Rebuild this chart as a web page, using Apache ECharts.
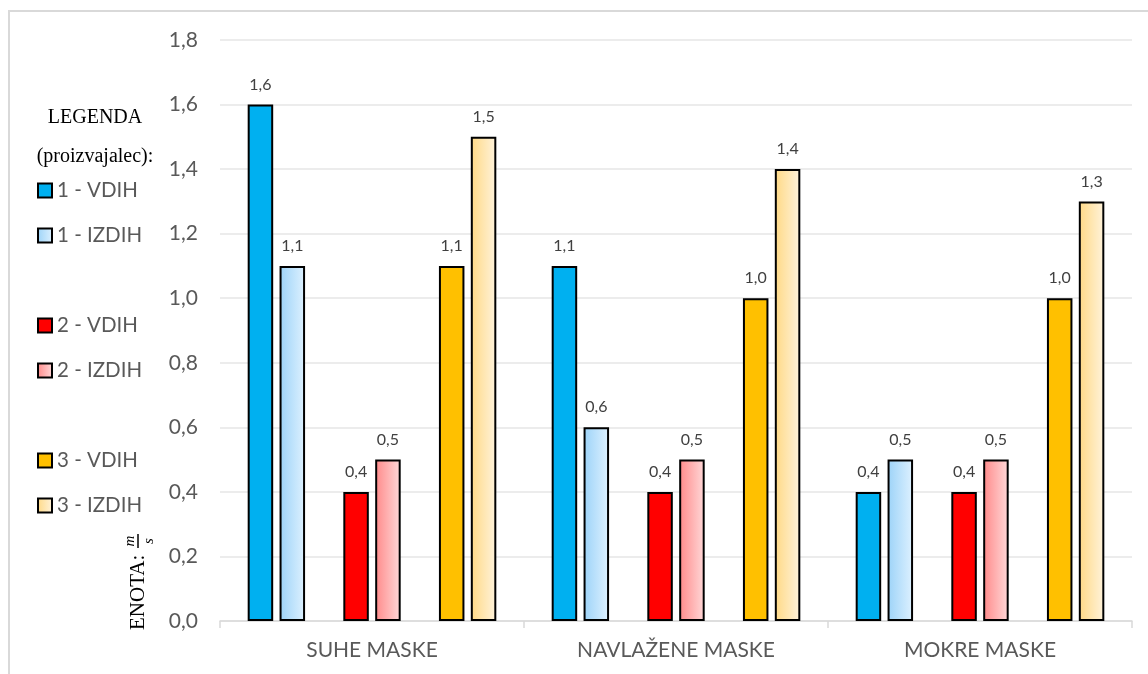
<!DOCTYPE html>
<html>
<head>
<meta charset="utf-8">
<script src="https://cdn.jsdelivr.net/npm/echarts@6/dist/echarts.min.js"></script>
<style>
  html, body { margin: 0; padding: 0; background: #ffffff; }
  #chart { width: 1148px; height: 674px; }
</style>
</head>
<body>
<div id="chart"></div>
<script>
// Categories and measured values (m/s)
const categories = ['SUHE MASKE', 'NAVLAŽENE MASKE', 'MOKRE MASKE'];
const seriesNames = ['1 - VDIH', '1 - IZDIH', '2 - VDIH', '2 - IZDIH', '3 - VDIH', '3 - IZDIH'];
const vdih1 = [1.6, 1.1, 0.4];
const izdih1 = [1.1, 0.6, 0.5];
const vdih2 = [0.4, 0.4, 0.4];
const izdih2 = [0.5, 0.5, 0.5];
const vdih3 = [1.1, 1.0, 1.0];
const izdih3 = [1.5, 1.4, 1.3];
const yAxisRange = { min: 0, max: 1.8, step: 0.2 };

const SANS = 'Lato, "Liberation Sans", sans-serif';
const SERIF = '"Liberation Serif", "Times New Roman", serif';

const fmt = v => Number(v).toFixed(1).replace('.', ',');

function hGrad(from, to) {
  return new echarts.graphic.LinearGradient(0, 0, 1, 0, [
    { offset: 0, color: from },
    { offset: 1, color: to }
  ]);
}

function barSeries(name, data, color) {
  return {
    name: name,
    type: 'bar',
    data: data,
    barWidth: 25.5,
    barGap: '25%',
    itemStyle: { color: color, borderColor: '#000000', borderWidth: 2 },
    label: {
      show: true,
      position: 'top',
      distance: 12,
      color: '#404040',
      fontSize: 16,
      fontFamily: SANS,
      formatter: p => fmt(p.value)
    },
    emphasis: { disabled: true }
  };
}

// an empty slot between manufacturer pairs
function gapSeries(id) {
  return { id: id, type: 'bar', data: [], barWidth: 25.5, barGap: '25%', silent: true };
}

const series = [
  barSeries(seriesNames[0], vdih1, '#00B0F0'),
  barSeries(seriesNames[1], izdih1, hGrad('#9CD3F8', '#DEF1FF')),
  gapSeries('gapA'),
  barSeries(seriesNames[2], vdih2, '#FF0000'),
  barSeries(seriesNames[3], izdih2, hGrad('#FF8A8A', '#FFD9D9')),
  gapSeries('gapB'),
  barSeries(seriesNames[4], vdih3, '#FFC000'),
  barSeries(seriesNames[5], izdih3, hGrad('#FFD985', '#FFF3DC'))
];

// legend rows: two per manufacturer, with a blank row between groups
const legendRowCenters = [190, 235, 325, 370, 460, 505];
const legends = seriesNames.map((n, i) => ({
  data: [n],
  left: 37,
  top: legendRowCenters[i] - 10,
  padding: 0,
  orient: 'vertical',
  icon: 'rect',
  itemWidth: 14,
  itemHeight: 14,
  selectedMode: false,
  textStyle: { color: '#595959', fontSize: 20.5, fontFamily: SANS, lineHeight: 20 },
  itemStyle: { borderColor: '#000000', borderWidth: 2 }
}));

const chart = echarts.init(document.getElementById('chart'), null, { renderer: 'canvas' });

chart.setOption({
  backgroundColor: '#ffffff',
  animation: false,
  grid: { left: 220, right: 16, top: 40, bottom: 53, containLabel: false },
  legend: legends,
  xAxis: {
    type: 'category',
    data: categories,
    axisLine: { lineStyle: { color: '#D9D9D9', width: 1.5 } },
    axisTick: { show: true, length: 7, interval: 0, lineStyle: { color: '#D9D9D9', width: 1.5 } },
    axisLabel: { color: '#595959', fontSize: 21, fontFamily: SANS, margin: 19, interval: 0 }
  },
  yAxis: {
    type: 'value',
    min: yAxisRange.min,
    max: yAxisRange.max,
    interval: yAxisRange.step,
    axisLine: { show: false },
    axisTick: { show: false },
    splitLine: { lineStyle: { color: '#E6E6E6', width: 1.5 } },
    axisLabel: { color: '#595959', fontSize: 21, fontFamily: SANS, margin: 22, formatter: fmt }
  },
  series: series,
  graphic: [
    {
      type: 'rect',
      silent: true,
      shape: { x: 9, y: 11, width: 1300, height: 800 },
      style: { fill: 'none', stroke: '#D9D9D9', lineWidth: 2 }
    },
    {
      type: 'text',
      x: 95, y: 118,
      style: { text: 'LEGENDA', fill: '#000000', font: '20px ' + SERIF, textAlign: 'center', textVerticalAlign: 'middle' }
    },
    {
      type: 'text',
      x: 95, y: 157,
      style: { text: '(proizvajalec):', fill: '#000000', font: '20px ' + SERIF, textAlign: 'center', textVerticalAlign: 'middle' }
    },
    {
      // vertical unit title: "ENOTA:" followed by the fraction m / s
      type: 'group',
      x: 138, y: 630,
      rotation: Math.PI / 2,
      children: [
        {
          type: 'text', x: 0, y: 0,
          style: { text: 'ENOTA:', fill: '#000000', font: '21px ' + SERIF, textAlign: 'left', textVerticalAlign: 'middle' }
        },
        {
          type: 'line',
          shape: { x1: 82, y1: 0, x2: 96, y2: 0 },
          style: { stroke: '#000000', lineWidth: 1.5 }
        },
        {
          type: 'text', x: 89, y: -8,
          style: { text: 'm', fill: '#000000', font: 'italic 15px ' + SERIF, textAlign: 'center', textVerticalAlign: 'middle' }
        },
        {
          type: 'text', x: 89, y: 11,
          style: { text: 's', fill: '#000000', font: 'italic 15px ' + SERIF, textAlign: 'center', textVerticalAlign: 'middle' }
        }
      ]
    }
  ]
});
</script>
</body>
</html>
